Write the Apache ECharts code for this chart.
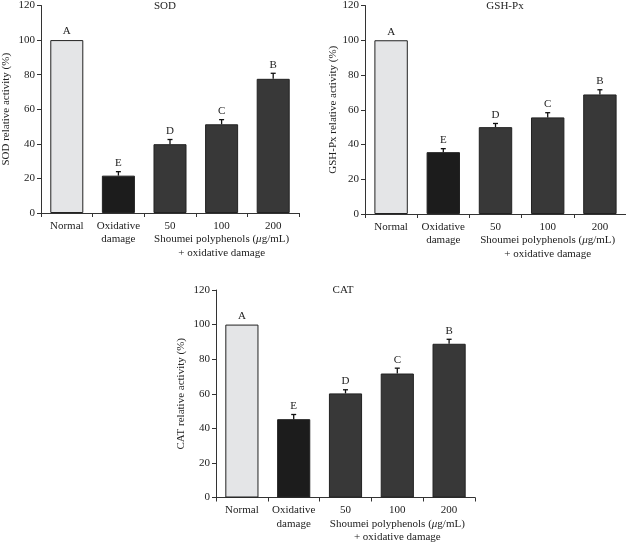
<!DOCTYPE html>
<html>
<head>
<meta charset="utf-8">
<script src="https://cdn.jsdelivr.net/npm/echarts@6/dist/echarts.min.js"></script>
<style>html,body{margin:0;padding:0;background:#fff}#c{width:626px;height:544px}</style>
</head>
<body>
<div id="c"></div>
<script>
const categories = ['Normal', 'Oxidative\ndamage', '50', '100', '200'];
const yTicks = [0, 20, 40, 60, 80, 100, 120];
const panelTitles = ['SOD', 'GSH-Px', 'CAT'];
const yNames = ['SOD relative activity (%)', 'GSH-Px relative activity (%)', 'CAT relative activity (%)'];
const sodValues = [100, 21.6, 39.8, 51.3, 77.6];
const sodErrors = [0, 2.3, 2.7, 2.7, 3.2];
const gshValues = [100, 35.6, 50.0, 55.6, 68.8];
const gshErrors = [0, 2.0, 2.1, 2.7, 2.7];
const catValues = [100, 45.3, 60.2, 71.7, 88.9];
const catErrors = [0, 2.7, 2.1, 3.1, 2.6];
const letters = ['A', 'E', 'D', 'C', 'B'];

const FONT = '"Liberation Serif", "DejaVu Serif", serif';
const barColors = ['#e4e5e7', '#1c1c1c', '#383838', '#383838', '#383838'];
const grids = [
  {left: 41, top: 5, width: 258, height: 208},
  {left: 365, top: 5, width: 261, height: 209},
  {left: 216, top: 290, width: 259, height: 209}
];
const titlePos = [[165, 1], [505, 0.5], [343, 284.5]];
const nameGaps = [29, 25, 29];
const valuesList = [sodValues, gshValues, catValues];
const errorsList = [sodErrors, gshErrors, catErrors];

const option = {
  animation: false,
  backgroundColor: '#fff',
  textStyle: {fontFamily: FONT},
  title: panelTitles.map((t, i) => ({
    text: t, left: titlePos[i][0], top: titlePos[i][1], textAlign: 'center', padding: 0,
    textStyle: {fontFamily: FONT, fontSize: 11, fontWeight: 'normal', color: '#222'}
  })),
  grid: grids,
  xAxis: grids.map((g, i) => ({
    type: 'category', gridIndex: i, data: categories, boundaryGap: true,
    axisLine: {lineStyle: {color: '#333', width: 1}},
    axisTick: {show: true, length: 4, inside: false, lineStyle: {color: '#333'}},
    axisLabel: {
      interval: 0, fontFamily: FONT, fontSize: 11, color: '#222', margin: 6, lineHeight: 13.5,
      formatter: v => v === '100' ? '100\n{n|Shoumei polyphenols (}{i|μ}{n|g/mL)}\n{n|+ oxidative damage}' : v,
      rich: {
        n: {fontFamily: FONT, fontSize: 11, color: '#222', lineHeight: 13.5},
        i: {fontFamily: FONT, fontSize: 11, color: '#222', fontStyle: 'italic', lineHeight: 13.5}
      }
    },
    splitLine: {show: false}
  })),
  yAxis: grids.map((g, i) => ({
    type: 'value', gridIndex: i, min: 0, max: 120, interval: 20,
    name: yNames[i], nameLocation: 'middle', nameGap: nameGaps[i], nameRotate: 90,
    nameTextStyle: {fontFamily: FONT, fontSize: 11, color: '#222'},
    axisLine: {show: true, lineStyle: {color: '#333', width: 1}},
    axisTick: {show: true, length: 4, lineStyle: {color: '#333'}},
    axisLabel: {fontFamily: FONT, fontSize: 11, color: '#222', margin: 6,
      formatter: v => yTicks.includes(v) ? String(v) : ''},
    splitLine: {show: false}
  })),
  series: []
};

valuesList.forEach((vals, i) => {
  option.series.push({
    type: 'bar', xAxisIndex: i, yAxisIndex: i, barWidth: '64%',
    data: vals.map((v, k) => ({value: v, itemStyle: {color: barColors[k], borderColor: '#222', borderWidth: 1}})),
    z: 2
  });
  const errs = errorsList[i];
  option.series.push({
    type: 'custom', xAxisIndex: i, yAxisIndex: i, z: 3,
    data: vals.map((v, k) => [k, v, errs[k]]),
    renderItem: (params, api) => {
      const x = api.value(0), v = api.value(1), e = api.value(2);
      const p0 = api.coord([x, v]);
      const p1 = api.coord([x, v + e]);
      const children = [];
      if (e > 0) {
        children.push({type: 'line', shape: {x1: p0[0], y1: p0[1], x2: p1[0], y2: p1[1]}, style: {stroke: '#111', lineWidth: 1.3}});
        children.push({type: 'line', shape: {x1: p1[0] - 2.5, y1: p1[1], x2: p1[0] + 2.5, y2: p1[1]}, style: {stroke: '#111', lineWidth: 1.3}});
      }
      children.push({type: 'text', style: {text: letters[params.dataIndex], x: p1[0], y: p1[1] - 3,
        align: 'center', verticalAlign: 'bottom', fontFamily: FONT, fontSize: 11, fill: '#222'}});
      return {type: 'group', children};
    }
  });
});

const chart = echarts.init(document.getElementById('c'), null, {renderer: 'canvas'});
chart.setOption(option);
</script>
</body>
</html>
